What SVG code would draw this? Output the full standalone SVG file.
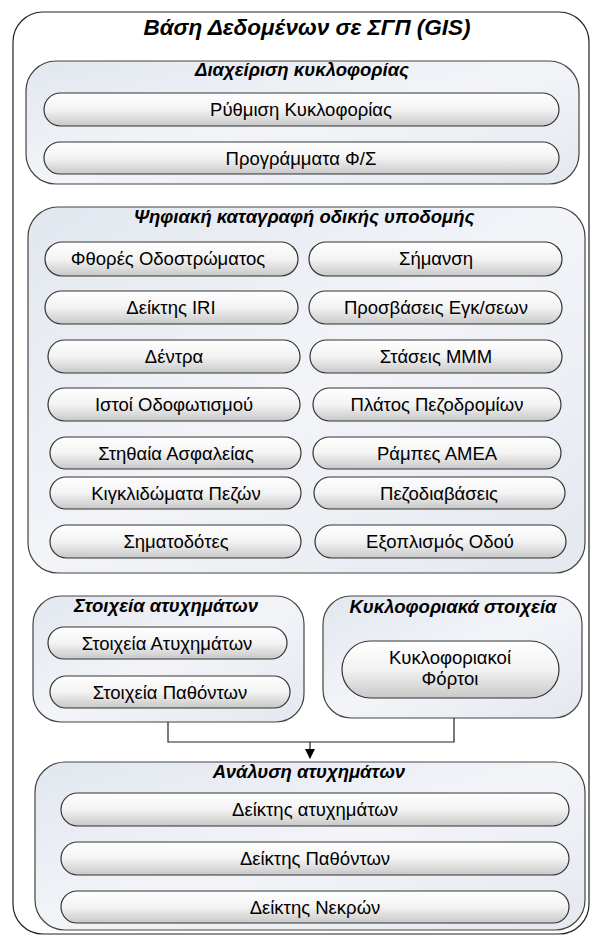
<svg xmlns="http://www.w3.org/2000/svg" width="592" height="936" viewBox="0 0 592 936">
<defs>
<linearGradient id="gGrp" x1="0" y1="0" x2="1" y2="1">
<stop offset="0" stop-color="#e2e7ef"/>
<stop offset="0.5" stop-color="#f2f4f8"/>
<stop offset="1" stop-color="#e4e8ef"/>
</linearGradient>
<linearGradient id="gPill" x1="0" y1="0" x2="0" y2="1">
<stop offset="0" stop-color="#ffffff"/>
<stop offset="0.5" stop-color="#f3f3f3"/>
<stop offset="1" stop-color="#c8c8c8"/>
</linearGradient>
<marker id="arr" markerWidth="10" markerHeight="10" refX="9" refY="5" orient="auto" markerUnits="userSpaceOnUse">
<path d="M0,0 L10,5 L0,10 Z" fill="#000"/>
</marker>
</defs>
<style>
.outer{fill:#fff;stroke:#222;stroke-width:1.2}
.grp{fill:url(#gGrp);stroke:#444;stroke-width:1.2}
.pill{fill:url(#gPill);stroke:#333;stroke-width:1.2}
.t{font-family:"Liberation Sans",Arial,sans-serif;font-size:18.5px;fill:#000;text-anchor:middle}
.gt{font-family:"Liberation Sans",Arial,sans-serif;font-size:18.5px;font-weight:bold;font-style:italic;fill:#000;text-anchor:middle}
.mt{font-family:"Liberation Sans",Arial,sans-serif;font-size:22.5px;font-weight:bold;font-style:italic;fill:#000;text-anchor:middle}
.con{fill:none;stroke:#222;stroke-width:1.2}
</style>
<g id="main">
<rect class="outer" x="13" y="12" width="576" height="922" rx="30"/>
<text class="mt" x="307" y="35">Βάση Δεδομένων σε ΣΓΠ (GIS)</text>
</g>
<g id="traffic-mgmt">
<rect class="grp" x="26" y="61" width="553" height="123" rx="30"/>
<text class="gt" x="302" y="76">Διαχείριση κυκλοφορίας</text>
<g id="n-rythmisi"><rect class="pill" x="44" y="93" width="515" height="33" rx="16.5"/><text class="t" x="301" y="116">Ρύθμιση Κυκλοφορίας</text></g>
<g id="n-programmata"><rect class="pill" x="44" y="142" width="515" height="32" rx="16"/><text class="t" x="301" y="165">Προγράμματα Φ/Σ</text></g>
</g>
<g id="road-infra">
<rect class="grp" x="28" y="207" width="557" height="366" rx="30"/>
<text class="gt" x="304" y="223">Ψηφιακή καταγραφή οδικής υποδομής</text>
<g id="n-fthores"><rect class="pill" x="45" y="242" width="253" height="34" rx="17"/><text class="t" x="168" y="265">Φθορές Οδοστρώματος</text></g>
<g id="n-simansi"><rect class="pill" x="309" y="242" width="253" height="34" rx="17"/><text class="t" x="436" y="265">Σήμανση</text></g>
<g id="n-iri"><rect class="pill" x="45" y="291" width="253" height="33" rx="16.5"/><text class="t" x="171" y="314">Δείκτης IRI</text></g>
<g id="n-prosvaseis"><rect class="pill" x="309" y="291" width="253" height="33" rx="16.5"/><text class="t" x="436" y="314">Προσβάσεις Εγκ/σεων</text></g>
<g id="n-dentra"><rect class="pill" x="48" y="340" width="252" height="33" rx="16.5"/><text class="t" x="174" y="363">Δέντρα</text></g>
<g id="n-staseis"><rect class="pill" x="310" y="340" width="252" height="33" rx="16.5"/><text class="t" x="436" y="363">Στάσεις ΜΜΜ</text></g>
<g id="n-istoi"><rect class="pill" x="48" y="388" width="252" height="33" rx="16.5"/><text class="t" x="174" y="411">Ιστοί Οδοφωτισμού</text></g>
<g id="n-platos"><rect class="pill" x="313" y="388" width="248" height="33" rx="16.5"/><text class="t" x="437" y="411">Πλάτος Πεζοδρομίων</text></g>
<g id="n-stithaia"><rect class="pill" x="50" y="437" width="251" height="32" rx="16"/><text class="t" x="176" y="460">Στηθαία Ασφαλείας</text></g>
<g id="n-rampes"><rect class="pill" x="313" y="437" width="248" height="32" rx="16"/><text class="t" x="437" y="460">Ράμπες ΑΜΕΑ</text></g>
<g id="n-kigklidomata"><rect class="pill" x="50" y="477" width="251" height="32" rx="16"/><text class="t" x="176" y="500">Κιγκλιδώματα Πεζών</text></g>
<g id="n-pezodiavaseis"><rect class="pill" x="314" y="477" width="251" height="32" rx="16"/><text class="t" x="439" y="500">Πεζοδιαβάσεις</text></g>
<g id="n-simatodotes"><rect class="pill" x="50" y="525" width="251" height="33" rx="16.5"/><text class="t" x="176" y="548">Σηματοδότες</text></g>
<g id="n-exoplismos"><rect class="pill" x="315" y="525" width="251" height="33" rx="16.5"/><text class="t" x="440" y="548">Εξοπλισμός Οδού</text></g>
</g>
<g id="accident-data">
<rect class="grp" x="33" y="596" width="271" height="126" rx="28"/>
<text class="gt" x="166" y="612">Στοιχεία  ατυχημάτων</text>
<g id="n-stoixeia-atyx"><rect class="pill" x="48" y="627" width="239" height="32" rx="16"/><text class="t" x="167" y="650">Στοιχεία Ατυχημάτων</text></g>
<g id="n-stoixeia-path"><rect class="pill" x="50" y="676" width="240" height="32" rx="16"/><text class="t" x="170" y="699">Στοιχεία Παθόντων</text></g>
</g>
<g id="traffic-data">
<rect class="grp" x="323" y="596" width="259" height="122" rx="28"/>
<text class="gt" x="453" y="613">Κυκλοφοριακά στοιχεία</text>
<g id="n-fortoi"><rect class="pill" x="342" y="641" width="217" height="57" rx="28.5"/><text class="t" x="450" y="664">Κυκλοφοριακοί</text><text class="t" x="450" y="685">Φόρτοι</text></g>
</g>
<g id="connectors">
<path class="con" d="M168,722 V742 H454 V718"/>
<path class="con" d="M310,742 V758" marker-end="url(#arr)"/>
</g>
<g id="accident-analysis">
<rect class="grp" x="35" y="762" width="550" height="168" rx="30"/>
<text class="gt" x="309" y="778">Ανάλυση ατυχημάτων</text>
<g id="n-deiktis-atyx"><rect class="pill" x="61" y="793" width="508" height="33" rx="16.5"/><text class="t" x="315" y="816">Δείκτης ατυχημάτων</text></g>
<g id="n-deiktis-path"><rect class="pill" x="61" y="842" width="508" height="33" rx="16.5"/><text class="t" x="315" y="865">Δείκτης Παθόντων</text></g>
<g id="n-deiktis-nekr"><rect class="pill" x="61" y="891" width="508" height="32" rx="16"/><text class="t" x="315" y="914">Δείκτης Νεκρών</text></g>
</g>
</svg>
